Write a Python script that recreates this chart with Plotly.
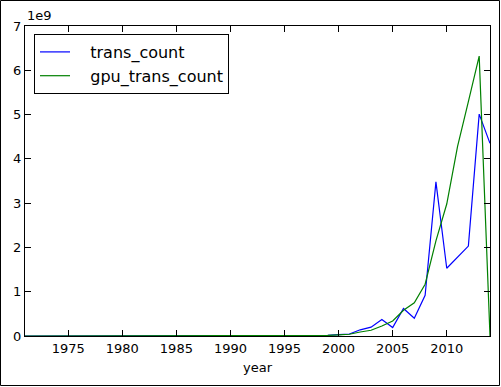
import plotly.graph_objects as go

years = [1971, 1972, 1974, 1975, 1976, 1978, 1979, 1982, 1983, 1984, 1985, 1986, 1988, 1989,
         1991, 1993, 1994, 1995, 1996, 1997, 1998, 1999, 2000, 2001, 2002, 2003, 2004, 2005,
         2006, 2007, 2008, 2009, 2010, 2011, 2012, 2013, 2014]
trans_count = [2300, 3500, 4500, 3510, 6500, 29000, 17500, 83000, 22000, 190000, 150000, 25000,
               250000, 1180000, 1350000, 3100000, 578977, 5500000, 4300000, 8150000, 7500000,
               16000000, 31000000, 45000000, 140000000, 200000000, 370000000, 190000000,
               620000000, 400000000, 920000000, 3480000000, 1530000000, 1780000000, 2030000000,
               5010000000, 4350000000]
gpu_trans_count = [0, 0, 0, 0, 0, 0, 0, 0, 0, 0, 0, 0,
                   0, 0, 0, 0, 0, 0, 0, 3500000, 7000000,
                   15000000, 25000000, 40000000, 90000000, 130000000, 225000000, 340000000,
                   580000000, 750000000, 1170000000, 2150000000, 2980000000, 4280000000, 5290000000,
                   6320000000, 0]

series_names = ["trans_count", "gpu_trans_count"]
x_ticks = [1975, 1980, 1985, 1990, 1995, 2000, 2005, 2010]
y_ticks = [0, 1e9, 2e9, 3e9, 4e9, 5e9, 6e9, 7e9]
y_tick_labels = ["0", "1", "2", "3", "4", "5", "6", "7"]

W, H = 501, 387
ml, mr, mt, mb = 25, 11, 26, 51
pw, ph = W - ml - mr, H - mt - mb
pad = "\u00a0\u00a0\u00a0"

fig = go.Figure()
fig.add_trace(go.Scatter(x=years, y=trans_count, mode="lines", name=pad + series_names[0],
                         legendgroup="a", line=dict(color="#0000ff", width=1.2)))
fig.add_trace(go.Scatter(x=years, y=gpu_trans_count, mode="lines", name=pad + series_names[1],
                         legendgroup="b", line=dict(color="#008000", width=1.2)))

axis_common = dict(showgrid=False, zeroline=False, showline=True, linecolor="black", linewidth=1,
                   mirror="ticks", ticks="inside", ticklen=6, tickcolor="black", tickwidth=1,
                   tickfont=dict(family="DejaVu Sans", size=13, color="black"))

fig.update_xaxes(range=[1971, 2014], tickvals=x_ticks,
                 title=dict(text="year", font=dict(family="DejaVu Sans", size=13, color="black"), standoff=8),
                 **axis_common)
fig.update_yaxes(range=[0, 7e9], tickvals=y_ticks, ticktext=y_tick_labels, **axis_common)

fig.add_annotation(text="1e9", xref="paper", yref="paper", x=0, y=1, xanchor="left", yanchor="bottom",
                   showarrow=False, font=dict(family="DejaVu Sans", size=13, color="black"), yshift=1)

fig.add_shape(type="rect", xref="paper", yref="paper",
              x0=-(ml - 0.5) / pw, x1=1 + (mr - 1.5) / pw,
              y0=-(mb - 1.5) / ph, y1=1 + (mt - 0.5) / ph,
              line=dict(color="black", width=1), fillcolor="rgba(0,0,0,0)", layer="above")

fig.update_layout(
    width=W, height=H,
    margin=dict(l=ml, r=mr, t=mt, b=mb),
    paper_bgcolor="white", plot_bgcolor="white",
    font=dict(family="DejaVu Sans", color="black"),
    legend=dict(x=(34 - ml) / pw, y=1 - (34 - mt) / ph, xanchor="left", yanchor="top",
                bgcolor="white", bordercolor="black", borderwidth=1,
                font=dict(family="DejaVu Sans", size=16, color="black"),
                tracegroupgap=0),
    showlegend=True,
)

fig.write_html("out.html", config={"displayModeBar": False},
               post_script="document.body.style.margin='0';")
